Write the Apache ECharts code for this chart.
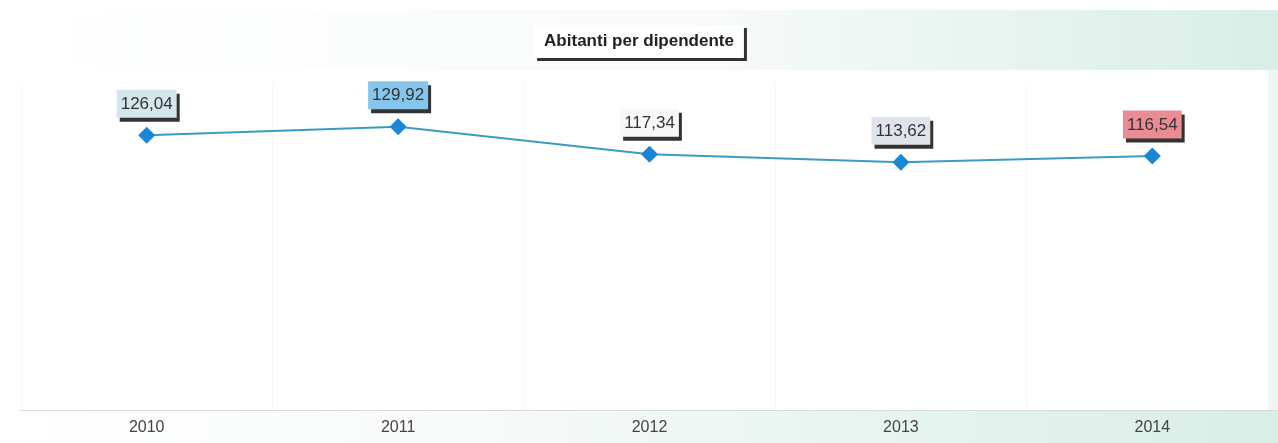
<!DOCTYPE html>
<html><head><meta charset="utf-8">
<script src="https://cdn.jsdelivr.net/npm/echarts@6/dist/echarts.min.js"></script>
<style>html,body{margin:0;padding:0;background:#fff}#c{width:1278px;height:443px}</style>
</head><body><div id="c"></div>
<script>
const categories = ['2010','2011','2012','2013','2014'];
const values = [126.04, 129.92, 117.34, 113.62, 116.54];
const labelColors = ['#d3e6ec', '#86c6ec', '#f7f7f5', '#dfe4ec', '#e98c93'];
const title = 'Abitanti per dipendente';

const chart = echarts.init(document.getElementById('c'));
const grad = (x0) => new echarts.graphic.LinearGradient(0,0,1,0,[
  {offset:0,color:'#ffffff'},{offset:x0,color:'#f8fbfa'},{offset:1,color:'#d8eee6'}]);
chart.setOption({
  animation:false,
  backgroundColor:'#ffffff',
  graphic:[
    {type:'rect',z:-10,shape:{x:0,y:10,width:1278,height:60},style:{fill:grad(0.55)}},
    {type:'rect',z:-10,shape:{x:0,y:410,width:1278,height:33},style:{fill:grad(0.35)}},
    {type:'rect',z:-9,shape:{x:1268,y:70,width:10,height:340},style:{fill:'#eef6f3'}}
  ],
  title:{
    text:title,left:'center',top:25,
    backgroundColor:'#ffffff',padding:[8,10,8,10],
    shadowColor:'#333',shadowOffsetX:3,shadowOffsetY:3,shadowBlur:0,
    textStyle:{fontFamily:'Liberation Sans, Arial',fontSize:17,fontWeight:'bold',color:'#222'}
  },
  grid:{left:21,right:0,top:83,bottom:33},
  xAxis:{
    type:'category',data:categories,boundaryGap:true,
    axisLine:{show:true,lineStyle:{color:'#d6d6d6',type:'dotted'}},
    axisTick:{show:false},
    splitLine:{show:true,lineStyle:{color:'#f8f8f8'}},
    axisLabel:{color:'#444',fontSize:16,fontFamily:'Liberation Sans, Arial',margin:10}
  },
  yAxis:{type:'value',min:0,max:150,show:false,splitLine:{show:false}},
  series:[{
    type:'line',
    data:values.map((v,i)=>({value:v,label:{backgroundColor:labelColors[i]}})),
    symbol:'diamond',symbolSize:17,
    lineStyle:{color:'#3a9cc2',width:2},
    itemStyle:{color:'#1a86d6'},
    label:{
      show:true,position:'top',distance:9,
      formatter:p=>p.value.toFixed(2).replace('.',','),
      color:'#333',fontSize:17,fontFamily:'Liberation Sans, Arial',
      padding:[6,4,5,4],
      shadowColor:'#333',shadowOffsetX:3,shadowOffsetY:4,shadowBlur:0
    }
  }]
});
</script></body></html>
